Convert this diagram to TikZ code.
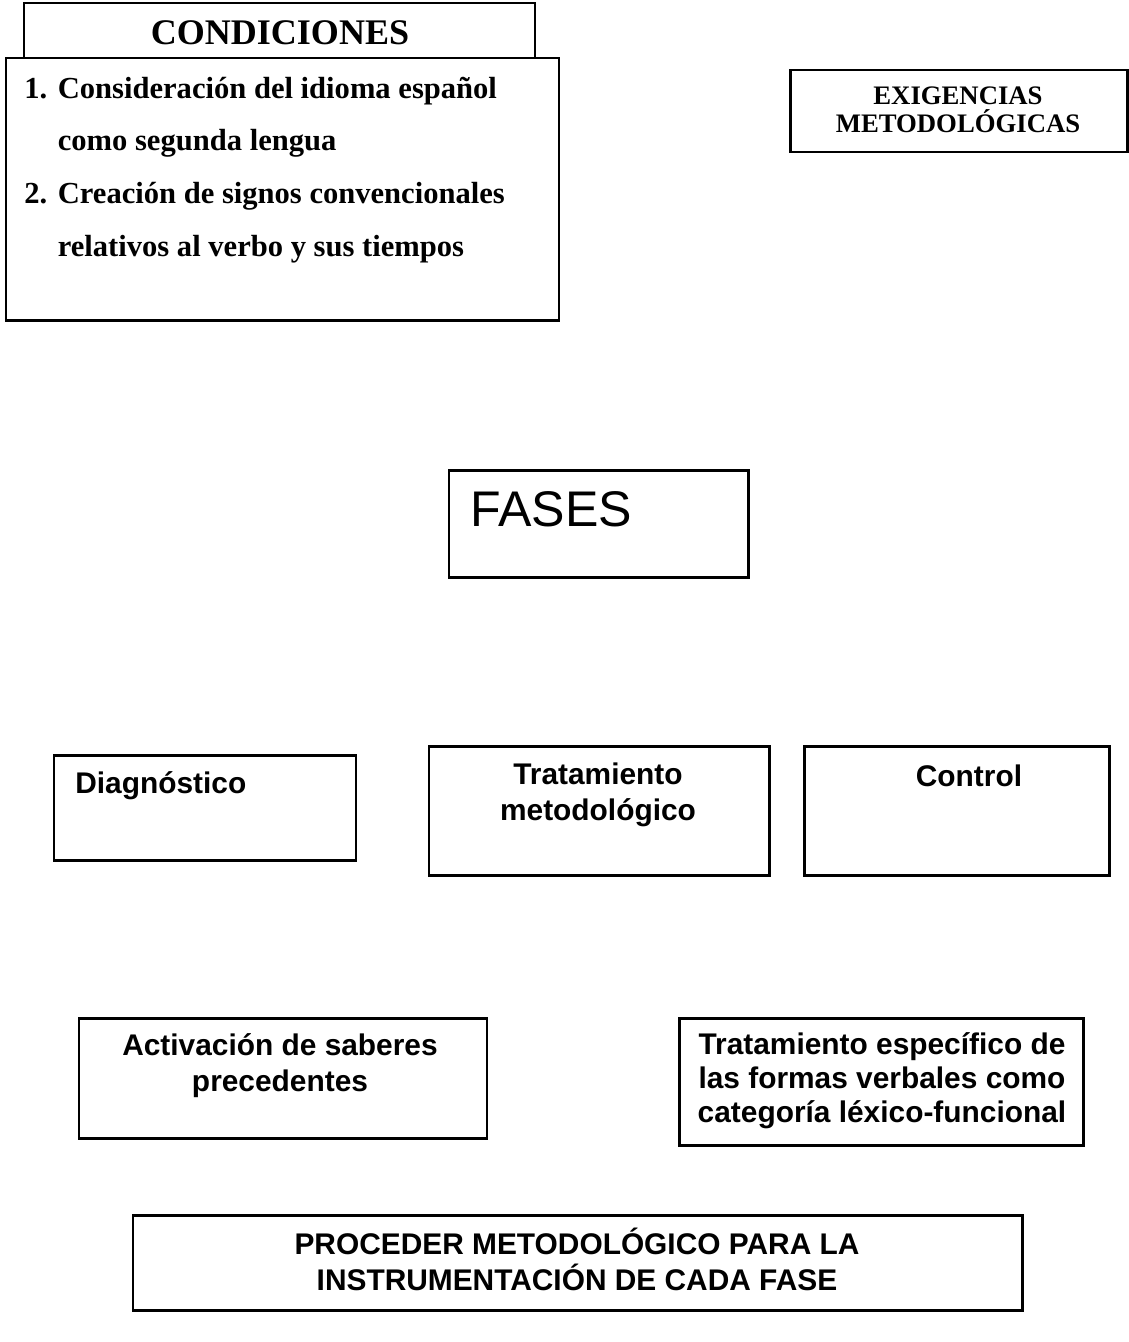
\documentclass[tikz,border=0pt]{standalone}
\usepackage{fontspec}
\setmainfont{Liberation Serif}
\setsansfont{Liberation Sans}
\tikzset{
    caja/.style={draw=black, line width=1.7pt, fill=white, inner sep=0pt},
    titulo/.style={font=\rmfamily\bfseries, align=center, inner sep=0pt},
    rotulo/.style={font=\sffamily\bfseries\fontsize{17}{20.5}\selectfont, align=center, inner sep=0pt}
}

\begin{document}
\begin{tikzpicture}
    \useasboundingbox (0,0) rectangle (22.58,-26.84);
    \node[caja, minimum width=10.22cm, minimum height=1.1cm] (condtit) at (5.59,-0.61) {};
    \node[caja, minimum width=11.06cm, minimum height=5.24cm] (cond) at (5.65,-3.78) {};
    \node[titulo, font=\rmfamily\bfseries\fontsize{20.5}{24}\selectfont] (condtxt) at (5.6,-0.66) {CONDICIONES};
    \node[titulo, anchor=north west, font=\rmfamily\bfseries\fontsize{17.4}{30}\selectfont] (condlista) at (0.48,-1.22)
        {\begin{tabular}{@{}l@{\hspace{6pt}}l@{}}
            1. & Consideración del idioma español\\
               & como segunda lengua\\
            2. & Creación de signos convencionales\\
               & relativos al verbo y sus tiempos
        \end{tabular}};

    \node[caja, minimum width=6.74cm, minimum height=1.64cm] (exig) at (19.17,-2.22) {};
    \node[titulo, font=\rmfamily\bfseries\fontsize{15.2}{16}\selectfont] (exigtxt) at (19.16,-2.2) {EXIGENCIAS\\METODOLÓGICAS};

    \node[caja, minimum width=5.98cm, minimum height=2.14cm] (fases) at (11.97,-10.47) {};
    \node[anchor=base west, inner sep=0pt, font=\sffamily\fontsize{28.5}{30}\selectfont] (fasestxt) at (9.4,-10.53) {FASES};

    \node[caja, minimum width=6.04cm, minimum height=2.10cm] (diag) at (4.10,-16.15) {};
    \node[rotulo, anchor=base west] (diagtxt) at (1.5,-15.86) {Diagnóstico};
    \node[caja, minimum width=6.8cm, minimum height=2.58cm] (trat) at (11.98,-16.21) {};
    \node[rotulo] (trattxt) at (11.96,-15.89) {Tratamiento\\metodológico};
    \node[caja, minimum width=6.1cm, minimum height=2.58cm] (ctrl) at (19.13,-16.21) {};
    \node[rotulo] (ctrltxt) at (19.38,-15.52) {Control};

    \node[caja, minimum width=8.16cm, minimum height=2.4cm] (activ) at (5.66,-21.56) {};
    \node[rotulo] (activtxt) at (5.6,-21.32) {Activación de saberes\\precedentes};
    \node[caja, minimum width=8.08cm, minimum height=2.54cm] (tesp) at (17.62,-21.63) {};
    \node[rotulo, font=\sffamily\bfseries\fontsize{17}{19.4}\selectfont] (tesptxt) at (17.64,-21.62) {Tratamiento específico de\\las formas verbales como\\categoría léxico-funcional};

    \node[caja, minimum width=17.78cm, minimum height=1.9cm] (proc) at (11.55,-25.25) {};
    \node[rotulo] (proctxt) at (11.54,-25.18) {PROCEDER METODOLÓGICO PARA LA\\INSTRUMENTACIÓN DE CADA FASE};
\end{tikzpicture}
\end{document}
